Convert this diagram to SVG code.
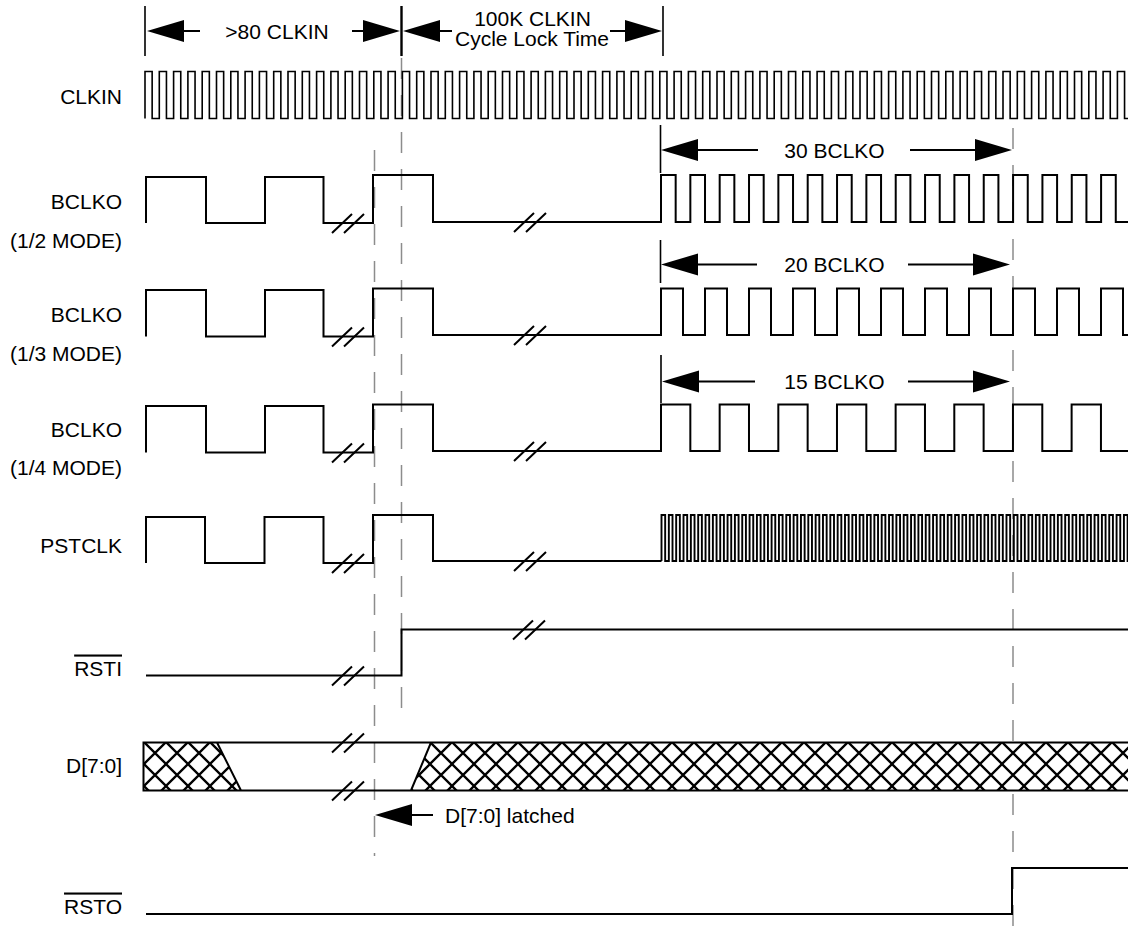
<svg xmlns="http://www.w3.org/2000/svg" xmlns:xlink="http://www.w3.org/1999/xlink" width="1128" height="932" viewBox="0 0 1128 932">
<style>
text{font-family:"Liberation Sans",Arial,sans-serif;font-size:21px;fill:#000}
.lbl{text-anchor:end}
.mid{text-anchor:middle}
.ov{text-decoration:overline}
.w{fill:none;stroke:#000;stroke-width:2;stroke-linejoin:miter;stroke-linecap:butt}
.wf{fill:none;stroke:#000;stroke-width:1.9}
.brk{fill:none;stroke:#000;stroke-width:2}
.dash{fill:none;stroke:#8c8c8c;stroke-width:1.5;stroke-dasharray:21 16}
.bar{fill:none;stroke:#000;stroke-width:1.6}
.dim{fill:none;stroke:#000;stroke-width:2}
.ah{fill:#000}
</style>
<defs>
<path id="ahL" d="M0,0L37,-11L37,11Z"/>
<path id="ahR" d="M0,0L-37,-11L-37,11Z"/>
<path id="sl" d="M0,10L20,-9M12,10L32,-9"/>
<pattern id="xh" patternUnits="userSpaceOnUse" x="430" y="742" width="22" height="22">
<path d="M-2,-2L24,24M24,-2L-2,24" stroke="#000" stroke-width="2.3"/>
</pattern>
</defs>
<rect width="1128" height="932" fill="#fff"/>

<g id="connectors">
<path class="dash" d="M401.5,58V712"/>
<path class="dash" d="M374.5,150V856"/>
<path class="dash" d="M1013,128V932"/>
<path class="bar" d="M145,6V56M663,6V56"/>
<path class="bar" style="stroke-width:2.4" d="M401.5,6V56"/>
<use xlink:href="#ahL" class="ah" x="147" y="31"/>
<path class="dim" d="M184,31H200M352,31H364"/>
<use xlink:href="#ahR" class="ah" x="400" y="31"/>
<use xlink:href="#ahL" class="ah" x="403" y="31"/>
<path class="dim" d="M440,31H452M610,31H625"/>
<use xlink:href="#ahR" class="ah" x="662" y="31"/>
<path class="bar" d="M660.5,125V173"/>
<use xlink:href="#ahL" class="ah" x="661" y="150"/>
<path class="dim" d="M698,150H758M910,150H975"/>
<use xlink:href="#ahR" class="ah" x="1012" y="150"/>
<path class="bar" d="M660.5,240V283"/>
<use xlink:href="#ahL" class="ah" x="661" y="264.5"/>
<path class="dim" d="M698,264.5H757M908,264.5H973"/>
<use xlink:href="#ahR" class="ah" x="1010" y="264.5"/>
<path class="bar" d="M661,355V403"/>
<use xlink:href="#ahL" class="ah" x="662" y="381.5"/>
<path class="dim" d="M698,381.5H755M908,381.5H973"/>
<use xlink:href="#ahR" class="ah" x="1010" y="381.5"/>
<use xlink:href="#ahL" class="ah" x="375" y="815"/>
<path class="dim" d="M411,815H433"/>
</g>

<g id="annotations">
<text class="mid" x="277" y="39">&gt;80 CLKIN</text>
<text class="mid" x="532.5" y="26">100K CLKIN</text>
<text class="mid" x="532" y="46">Cycle Lock Time</text>
<text class="mid" x="834.5" y="157.5">30 BCLKO</text>
<text class="mid" x="834.5" y="272">20 BCLKO</text>
<text class="mid" x="834.5" y="388.5">15 BCLKO</text>
<text x="445" y="822.5">D[7:0] latched</text>
</g>

<g id="sig-clkin">
<text class="lbl" x="122" y="104">CLKIN</text>
<path class="wf" style="stroke-width:1.6" d="M145,118.5v-47h7.15v47h7.15v-47h7.15v47h7.15v-47h7.15v47h7.15v-47h7.15v47h7.15v-47h7.15v47h7.15v-47h7.15v47h7.15v-47h7.15v47h7.15v-47h7.15v47h7.15v-47h7.15v47h7.15v-47h7.15v47h7.15v-47h7.15v47h7.15v-47h7.15v47h7.15v-47h7.15v47h7.15v-47h7.15v47h7.15v-47h7.15v47h7.15v-47h7.15v47h7.15v-47h7.15v47h7.15v-47h7.15v47h7.15v-47h7.15v47h7.15v-47h7.15v47h7.15v-47h7.15v47h7.15v-47h7.15v47h7.15v-47h7.15v47h7.15v-47h7.15v47h7.15v-47h7.15v47h7.15v-47h7.15v47h7.15v-47h7.15v47h7.15v-47h7.15v47h7.15v-47h7.15v47h7.15v-47h7.15v47h7.15v-47h7.15v47h7.15v-47h7.15v47h7.15v-47h7.15v47h7.15v-47h7.15v47h7.15v-47h7.15v47h7.15v-47h7.15v47h7.15v-47h7.15v47h7.15v-47h7.15v47h7.15v-47h7.15v47h7.15v-47h7.15v47h7.15v-47h7.15v47h7.15v-47h7.15v47h7.15v-47h7.15v47h7.15v-47h7.15v47h7.15v-47h7.15v47h7.15v-47h7.15v47h7.15v-47h7.15v47h7.15v-47h7.15v47h7.15v-47h7.15v47h7.15v-47h7.15v47h7.15v-47h7.15v47h7.15v-47h7.15v47h7.15v-47h7.15v47h7.15v-47h7.15v47h7.15v-47h7.15v47h7.15v-47h7.15v47h7.15v-47h7.15v47h7.15v-47h7.15v47h7.15v-47h7.15v47h7.15v-47h7.15v47h7.15v-47h7.15v47h7.15v-47h7.15v47h7.15v-47h7.15v47h7.15v-47h7.15v47h7.15v-47h7.15v47h7.15v-47h7.15v47h7.15v-47h7.15v47h7.15v-47h7.15v47h7.15v-47h7.15v47h7.15"/>
</g>

<g id="sig-bclko-2">
<text class="lbl" x="122" y="208.5">BCLKO</text>
<text class="lbl" x="122" y="247.5">(1/2 MODE)</text>
<path class="w" d="M146,223V177H206V223H265V177H323.5V223H373V175H433V222H661V175h14.67v47h14.67v-47h14.67v47h14.67v-47h14.67v47h14.67v-47h14.67v47h14.67v-47h14.67v47h14.67v-47h14.67v47h14.67v-47h14.67v47h14.67v-47h14.67v47h14.67v-47h14.67v47h14.67v-47h14.67v47h14.67v-47h14.67v47h14.67v-47h14.67v47h14.67v-47h14.67v47h14.67v-47h14.67v47h14.67v-47h14.67v47h14.67v-47h14.67v47h14.67v-47h14.67v47h14.67v-47h14.67v47h14.67v-47"/>
<use xlink:href="#sl" class="brk" x="332" y="223"/>
<use xlink:href="#sl" class="brk" x="514" y="222"/>
</g>

<g id="sig-bclko-3">
<text class="lbl" x="122" y="321.5">BCLKO</text>
<text class="lbl" x="122" y="360.5">(1/3 MODE)</text>
<path class="w" d="M146,336.5V290H206V336.5H265V290H323.5V336.5H373V288.5H433V335H661V288.5h22v46.5h22v-46.5h22v46.5h22v-46.5h22v46.5h22v-46.5h22v46.5h22v-46.5h22v46.5h22v-46.5h22v46.5h22v-46.5h22v46.5h22v-46.5h22v46.5h22v-46.5h22v46.5h22v-46.5h22v46.5h22v-46.5h22v46.5h22v-46.5"/>
<use xlink:href="#sl" class="brk" x="332" y="336.5"/>
<use xlink:href="#sl" class="brk" x="514" y="335"/>
</g>

<g id="sig-bclko-4">
<text class="lbl" x="122" y="436.5">BCLKO</text>
<text class="lbl" x="122" y="474.5">(1/4 MODE)</text>
<path class="w" d="M146,452.5V406H206V452.5H265V406H323.5V452.5H373V404.5H433V451H661V404.5h29.33v46.5h29.33v-46.5h29.33v46.5h29.33v-46.5h29.33v46.5h29.33v-46.5h29.33v46.5h29.33v-46.5h29.33v46.5h29.33v-46.5h29.33v46.5h29.33v-46.5h29.33v46.5h29.33v-46.5h29.33v46.5h29.33v-46.5"/>
<use xlink:href="#sl" class="brk" x="332" y="452.5"/>
<use xlink:href="#sl" class="brk" x="514" y="451"/>
</g>

<g id="sig-pstclk">
<text class="lbl" x="122" y="553">PSTCLK</text>
<path class="w" d="M146,563V517H205V563H264.5V517H323.5V563H373V515H433V561H661.5"/>
<path class="wf" d="M661.5,561V515h3.67v46h3.67v-46h3.67v46h3.67v-46h3.67v46h3.67v-46h3.67v46h3.67v-46h3.67v46h3.67v-46h3.67v46h3.67v-46h3.67v46h3.67v-46h3.67v46h3.67v-46h3.67v46h3.67v-46h3.67v46h3.67v-46h3.67v46h3.67v-46h3.67v46h3.67v-46h3.67v46h3.67v-46h3.67v46h3.67v-46h3.67v46h3.67v-46h3.67v46h3.67v-46h3.67v46h3.67v-46h3.67v46h3.67v-46h3.67v46h3.67v-46h3.67v46h3.67v-46h3.67v46h3.67v-46h3.67v46h3.67v-46h3.67v46h3.67v-46h3.67v46h3.67v-46h3.67v46h3.67v-46h3.67v46h3.67v-46h3.67v46h3.67v-46h3.67v46h3.67v-46h3.67v46h3.67v-46h3.67v46h3.67v-46h3.67v46h3.67v-46h3.67v46h3.67v-46h3.67v46h3.67v-46h3.67v46h3.67v-46h3.67v46h3.67v-46h3.67v46h3.67v-46h3.67v46h3.67v-46h3.67v46h3.67v-46h3.67v46h3.67v-46h3.67v46h3.67v-46h3.67v46h3.67v-46h3.67v46h3.67v-46h3.67v46h3.67v-46h3.67v46h3.67v-46h3.67v46h3.67v-46h3.67v46h3.67v-46h3.67v46h3.67v-46h3.67v46h3.67v-46h3.67v46h3.67v-46h3.67v46h3.67v-46h3.67v46h3.67v-46h3.67v46h3.67v-46h3.67v46h3.67v-46h3.67v46h3.67v-46h3.67v46h3.67v-46h3.67v46h3.67v-46h3.67v46h3.67v-46h3.67v46h3.67v-46h3.67v46h3.67v-46h3.67v46h3.67v-46h3.67v46h3.67v-46h3.67v46h3.67v-46h3.67v46h3.67v-46h3.67v46h3.67v-46h3.67v46h3.67v-46h3.67v46h3.67v-46h3.67v46h3.67v-46h3.67v46h3.67v-46h3.67v46h3.67v-46h3.67v46h3.67v-46h3.67v46h3.67v-46h3.67v46h3.67v-46h3.67v46h3.67v-46h3.67v46h3.67v-46"/>
<use xlink:href="#sl" class="brk" x="332" y="563"/>
<use xlink:href="#sl" class="brk" x="514" y="561"/>
</g>

<g id="sig-rsti">
<text class="lbl ov" x="122" y="675.5">RSTI</text>
<path class="w" d="M146,675.5H401.5V629.5H1130"/>
<use xlink:href="#sl" class="brk" x="332" y="675.5"/>
<use xlink:href="#sl" class="brk" x="513" y="629.5"/>
</g>

<g id="sig-data">
<text class="lbl" x="122" y="773">D[7:0]</text>
<path d="M143.5,742.5H217L241,790.5H143.5Z" fill="#fff"/>
<path d="M143.5,742.5H217L241,790.5H143.5Z" fill="url(#xh)"/>
<path d="M431,742.5H1130V790.5H411Z" fill="#fff"/>
<path d="M431,742.5H1130V790.5H411Z" fill="url(#xh)"/>
<path class="w" d="M143.5,742.5H1130M143.5,790.5H1130M143.5,741.5V791.5M217,742.5L241,790.5M431,742.5L411,790.5"/>
<use xlink:href="#sl" class="brk" x="332" y="742.5"/>
<use xlink:href="#sl" class="brk" x="332" y="790.5"/>
</g>

<g id="sig-rsto">
<text class="lbl ov" x="122" y="913.5">RSTO</text>
<path class="w" d="M146,914H1012V868H1130"/>
</g>
</svg>
